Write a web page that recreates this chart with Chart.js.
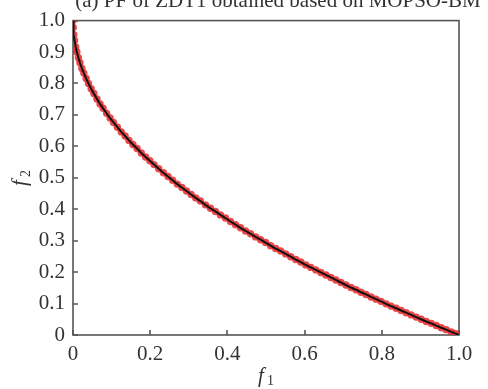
<!DOCTYPE html>
<html>
<head>
<meta charset="utf-8">
<script src="https://cdn.jsdelivr.net/npm/chart.js@4.4.1/dist/chart.umd.min.js"></script>
<style>
html,body{margin:0;padding:0;background:#fff;}
#wrap{width:488px;height:389px;position:relative;}
</style>
</head>
<body>
<div id="wrap"><canvas id="grafik" width="488" height="389"></canvas></div>
<script>
// data
let f1 = [0,0.0005,0.002,0.004,0.007,0.010,0.014,0.018,0.023,0.028,0.034,0.040,0.047,0.054,0.062,0.070,0.078,0.087,0.096,0.105,
0.115,0.125,0.135,0.145,0.155,0.166,0.177,0.188,0.199,0.210,0.222,0.234,0.246,0.258,0.270,0.282,0.294,0.306,0.318,0.330,
0.343,0.356,0.369,0.382,0.395,0.408,0.421,0.434,0.447,0.460,0.473,0.486,0.499,0.512,0.525,0.538,0.551,0.564,0.577,0.590,
0.603,0.616,0.629,0.642,0.655,0.668,0.681,0.694,0.707,0.720,0.733,0.746,0.759,0.772,0.785,0.798,0.811,0.824,0.837,0.850,
0.863,0.876,0.889,0.902,0.915,0.928,0.941,0.954,0.967,0.980,0.990,1.000];

let f2 = [1.000,0.978,0.955,0.937,0.916,0.900,0.882,0.866,0.848,0.833,0.816,0.800,0.783,0.768,0.751,0.735,0.721,0.705,0.690,0.676,
0.661,0.646,0.633,0.619,0.606,0.593,0.579,0.566,0.554,0.542,0.529,0.516,0.504,0.492,0.480,0.469,0.458,0.447,0.436,0.426,
0.414,0.403,0.393,0.382,0.372,0.361,0.351,0.341,0.331,0.322,0.312,0.303,0.294,0.284,0.275,0.267,0.258,0.249,0.240,0.232,
0.223,0.215,0.207,0.199,0.191,0.183,0.175,0.167,0.159,0.151,0.144,0.136,0.129,0.121,0.114,0.107,0.099,0.092,0.085,0.078,
0.071,0.064,0.057,0.050,0.043,0.037,0.030,0.023,0.017,0.010,0.005,0.000];

let xTicks = [0,0.2,0.4,0.6,0.8,1.0];
let yTicks = [0,0.1,0.2,0.3,0.4,0.5,0.6,0.7,0.8,0.9,1.0];

let judul = "(a) PF of ZDT1 obtained based on MOPSO-BM";

let titik = f1.map(function(x,i){ return {x:x, y:f2[i]}; });

// =========================
// plugin: frame, inward ticks, titles
// =========================
let hiasan = {
id:'hiasan',
beforeDatasetsDraw:function(chart){
let c = chart.ctx;
let a = chart.chartArea;
let sx = chart.scales.x, sy = chart.scales.y;
c.save();
c.strokeStyle = '#555';
c.lineWidth = 1.6;
c.strokeRect(a.left, a.top, a.right-a.left, a.bottom-a.top);
c.beginPath();
sx.ticks.forEach(function(t){
let px = Math.round(sx.getPixelForValue(t.value));
c.moveTo(px, a.bottom); c.lineTo(px, a.bottom-5);
});
sy.ticks.forEach(function(t){
let py = Math.round(sy.getPixelForValue(t.value));
c.moveTo(a.left, py); c.lineTo(a.left+5, py);
});
c.stroke();
c.restore();
},
afterDatasetsDraw:function(chart){
let c = chart.ctx;
c.save();
c.fillStyle = '#333';
// judul
c.font = '21px "Liberation Serif", serif';
c.textAlign = 'center';
c.textBaseline = 'alphabetic';
c.fillText(judul, 278, 7);

// x axis title f1
c.textAlign = 'left';
c.font = 'italic 21px "Liberation Serif", serif';
c.fillText('f', 258, 382);
c.font = '14px "Liberation Serif", serif';
c.fillText('1', 267, 385);

// y axis title f2
c.translate(26, 181);
c.rotate(-Math.PI/2);
c.font = 'italic 21px "Liberation Serif", serif';
c.fillText('f', -5, 0);
c.font = '14px "Liberation Serif", serif';
c.fillText('2', 4, 4);
c.restore();
}
};

let ctx = document.getElementById('grafik');

new Chart(ctx,{
type:'scatter',
data:{
datasets:[
{
label:'PF',
data:titik,
showLine:true,
borderColor:'#111',
borderWidth:2,
pointRadius:0,
order:0
},
{
label:'MOPSO-BM',
data:titik,
showLine:false,
backgroundColor:'rgba(232,40,42,0.85)',
borderColor:'rgba(232,40,42,0.85)',
pointRadius:3.7,
pointBorderWidth:0,
order:1
}
]
},
options:{
responsive:false,
animation:false,
devicePixelRatio:1,
layout:{padding:{top:18,right:29,left:0,bottom:0}},
plugins:{legend:{display:false},tooltip:{enabled:false}},
scales:{
x:{
type:'linear',
min:0,max:1,
afterBuildTicks:function(s){ s.ticks = xTicks.map(function(v){return {value:v};}); },
afterFit:function(s){ s.height = 54; },
grid:{display:false,drawTicks:false},
border:{display:false},
ticks:{
padding:7,
autoSkip:false,
color:'#333',
maxRotation:0,
font:{family:'"Liberation Serif", serif',size:21},
callback:function(v){ return v===0 ? '0' : v.toFixed(1); }
}
},
y:{
type:'linear',
min:0,max:1,
afterBuildTicks:function(s){ s.ticks = yTicks.map(function(v){return {value:v};}); },
afterFit:function(s){ s.width = 73; },
grid:{display:false,drawTicks:false},
border:{display:false},
ticks:{
padding:8,
autoSkip:false,
color:'#333',
font:{family:'"Liberation Serif", serif',size:21},
callback:function(v){ return v===0 ? '0' : v.toFixed(1); }
}
}
}
},
plugins:[hiasan]
});
</script>
</body>
</html>
